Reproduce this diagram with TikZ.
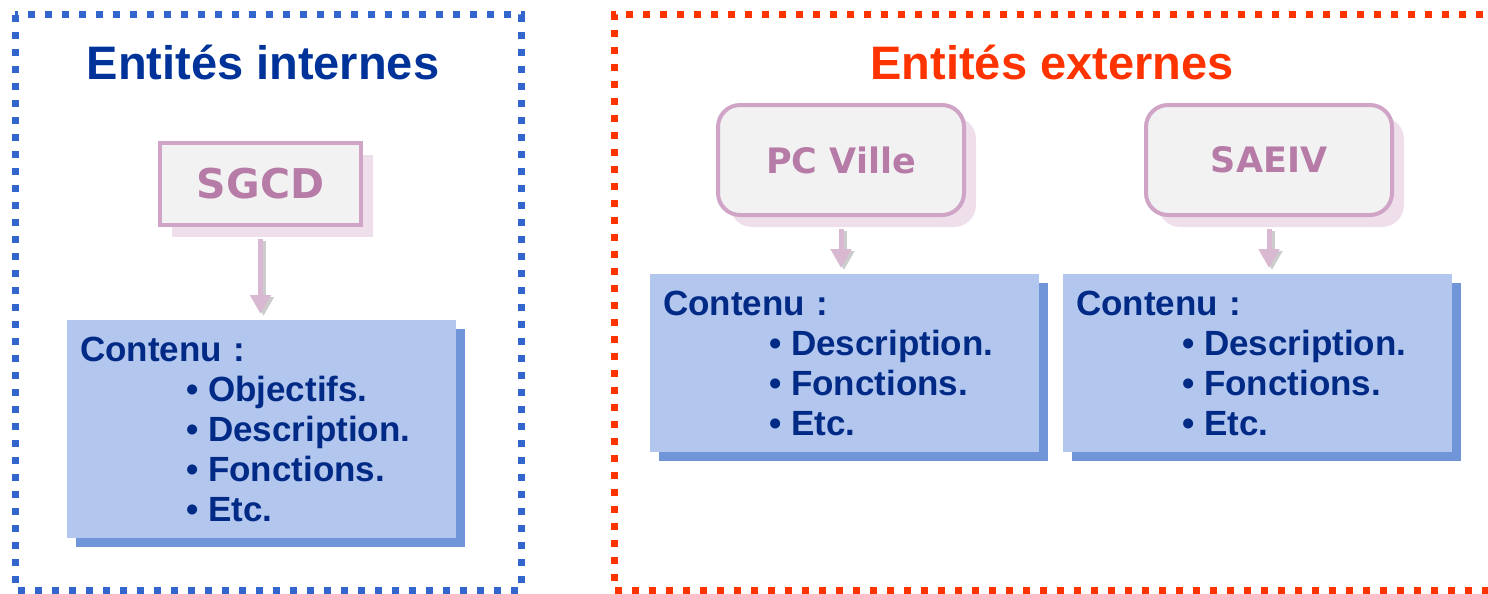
\documentclass[tikz,border=0pt]{standalone}
\usepackage{fontspec}
\setmainfont{Liberation Sans}
\newfontfamily\entitefont{DejaVu Sans}
\usetikzlibrary{arrows.meta,shadows}

\definecolor{bleuPointille}{HTML}{3366CC}
\definecolor{rougePointille}{HTML}{FF3300}
\definecolor{bleuTitre}{HTML}{003399}
\definecolor{texteContenu}{HTML}{002A85}
\definecolor{fondContenu}{HTML}{B3C7EE}
\definecolor{ombreContenu}{HTML}{7096D9}
\definecolor{bordRose}{HTML}{CFA4C6}
\definecolor{fondGris}{HTML}{F2F2F2}
\definecolor{texteRose}{HTML}{B67CA7}
\definecolor{ombreRose}{HTML}{EEDFEA}
\definecolor{flecheRose}{HTML}{D9B9D2}
\colorlet{flecheOmbre}{black!20}

\newcommand\puce[1]{\\\hspace*{106pt}\makebox[22pt][l]{\textbullet}#1}

\begin{document}
\begin{tikzpicture}[x=1pt, y=-1pt,
	line cap=butt, line join=miter,
	cadre/.style={line width=7pt, dash pattern=on 7pt off 10pt},
	titre/.style={anchor=base, font=\fontsize{47}{50}\selectfont\bfseries},
	entite/.style={draw=bordRose, line width=4pt, fill=fondGris, text=texteRose,
		drop shadow={shadow xshift=12pt, shadow yshift=-12pt, fill=ombreRose, opacity=1}},
	contenu/.style={fill=fondContenu, text=texteContenu, anchor=north west,
		font=\fontsize{35}{40}\selectfont\bfseries, align=left,
		text width=363pt, inner xsep=13pt,
		drop shadow={shadow xshift=9pt, shadow yshift=-9pt, fill=ombreContenu, opacity=1}},
	fleche/.style={line width=5pt, -{Triangle[width=20pt,length=19pt]},
		shorten <=12pt, shorten >=6pt}]
	
	\useasboundingbox (0,0) rectangle (1488,594);
	\clip (0,0) rectangle (1488,594);
	
	% cadres
	\draw [cadre, bleuPointille] (15,15) rectangle (521,590);
	\draw [cadre, rougePointille] (1500,15) -- (614,15) -- (614,590) -- (1500,590);
	
	\node [titre, text=bleuTitre] (titreInt) at (263,80) {Entités internes};
	\node [titre, text=rougePointille] (titreExt) at (1052,80) {Entités externes};
	
	% entites
	\node [entite, minimum width=201pt, minimum height=82pt,
		font=\entitefont\fontsize{41}{44}\selectfont\bfseries] (sgcd) at (260.5,184) {SGCD};
	\node [entite, rounded corners=22pt, minimum width=246pt, minimum height=110pt,
		font=\entitefont\fontsize{35}{40}\selectfont\bfseries] (pcville) at (841,160) {PC Ville};
	\node [entite, rounded corners=22pt, minimum width=246pt, minimum height=110pt,
		font=\entitefont\fontsize{35}{40}\selectfont\bfseries] (saeiv) at (1269,160) {SAEIV};
	
	% contenus
	\node [contenu, minimum height=218pt] (contenuSGCD) at (67,320)
	{Contenu :\puce{Objectifs.}\puce{Description.}\puce{Fonctions.}\puce{Etc.}};
	\node [contenu, minimum height=178pt] (contenuPC) at (650,274)
	{Contenu :\puce{Description.}\puce{Fonctions.}\puce{Etc.}};
	\node [contenu, minimum height=178pt] (contenuSAEIV) at (1063,274)
	{Contenu :\puce{Description.}\puce{Fonctions.}\puce{Etc.}};
	
	% fleches
	\foreach \src/\dst in {sgcd/contenuSGCD, pcville/contenuPC, saeiv/contenuSAEIV}{
		\draw [fleche, flecheOmbre, transform canvas={xshift=3pt, yshift=-2pt}]
		(\src.south) -- (\src.south |- \dst.north);
		\draw [fleche, flecheRose] (\src.south) -- (\src.south |- \dst.north);
	}
	
\end{tikzpicture}
\end{document}
